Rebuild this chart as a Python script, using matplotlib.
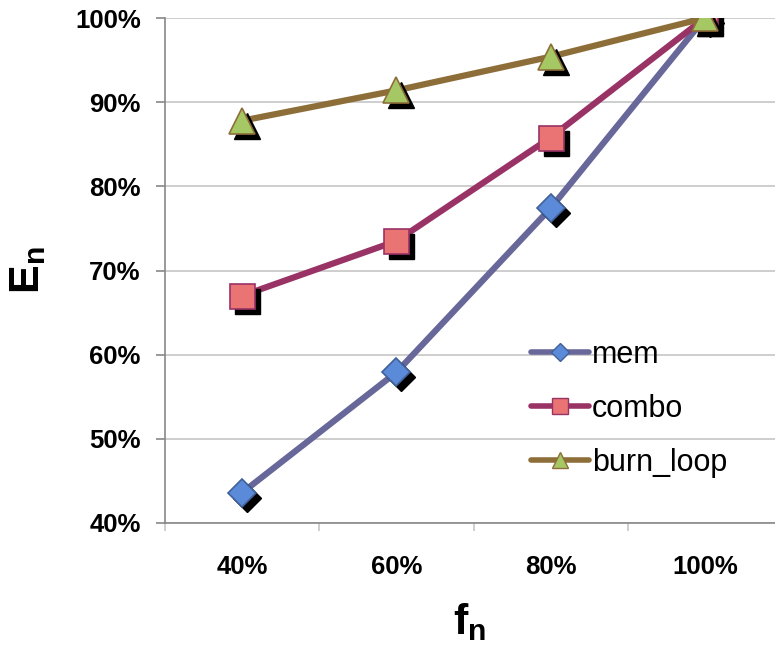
import matplotlib
matplotlib.use("Agg")
import matplotlib.pyplot as plt
import matplotlib.transforms as mtransforms
from matplotlib.lines import Line2D
from matplotlib.ticker import PercentFormatter

categories = ["40%", "60%", "80%", "100%"]
mem = [43.6, 57.9, 77.4, 100.0]
combo = [67.0, 73.5, 85.8, 100.0]
burn_loop = [87.8, 91.4, 95.4, 100.0]

plt.rcParams["font.family"] = ["Liberation Sans", "DejaVu Sans"]
plt.rcParams["mathtext.fontset"] = "custom"
plt.rcParams["mathtext.rm"] = "Liberation Sans:bold"
plt.rcParams["mathtext.it"] = "Liberation Sans:bold"

fig = plt.figure(figsize=(7.75, 6.53), dpi=100)
ax = fig.add_axes([165 / 775, 130 / 653, 617 / 775, 505 / 653])

x = list(range(len(categories)))

series = [
    ("mem", mem, "#67679a", "D", "#5b8bd8", "#40609a", 14),
    ("combo", combo, "#993366", "s", "#ea7473", "#993366", 18),
    ("burn_loop", burn_loop, "#8d6e38", "^", "#a5c865", "#8d6e38", 19),
]

shadow = mtransforms.offset_copy(ax.transData, fig=fig, x=5, y=-5, units="dots")

handles = []
for i, (name, vals, lc, mk, fc, ec, ms) in enumerate(series):
    ax.plot(x, vals, color=lc, lw=4.5, solid_capstyle="round", zorder=2 + i * 3)
    ax.plot(x, vals, ls="none", marker=mk, ms=ms, mfc="black", mec="black",
            transform=shadow, zorder=3 + i * 3)
    ax.plot(x, vals, ls="none", marker=mk, ms=ms, mfc=fc, mec=ec, mew=1.2,
            zorder=4 + i * 3)
    handles.append(Line2D([], [], color=lc, lw=4, solid_capstyle="round",
                          marker=mk, ms=ms * 0.62, mfc=fc, mec=ec, mew=1, label=name))

ax.set_xlim(-0.5, 3.5)
ax.set_ylim(40, 100)
ax.set_yticks(range(40, 101, 10))
ax.yaxis.set_major_formatter(PercentFormatter(decimals=0))
ax.set_xticks(x)
ax.set_xticklabels(categories)
ax.set_xticks([-0.5, 0.5, 1.5, 2.5, 3.5], minor=True)

ax.grid(axis="y", color="#c6c6c6", lw=1.2)
ax.set_axisbelow(True)
for s in ["top", "right"]:
    ax.spines[s].set_visible(False)
for s in ["left", "bottom"]:
    ax.spines[s].set_color("#878787")
    ax.spines[s].set_linewidth(1.2)

ax.tick_params(axis="y", length=6.5, color="#878787", width=1.2, pad=11,
               labelsize=18.5)
ax.tick_params(axis="x", which="major", length=0, pad=23, labelsize=18.5)
ax.tick_params(axis="x", which="minor", length=6, color="#c6c6c6", width=1.2)
for lab in ax.get_xticklabels() + ax.get_yticklabels():
    lab.set_fontweight("bold")

fig.text(28 / 775, 1 - 270 / 653, r"$\mathregular{E_n}$", rotation=90,
         fontsize=31, fontweight="bold", ha="center", va="center")
fig.text(470 / 775, 1 - 622 / 653, r"$\mathregular{f_n}$",
         fontsize=31, fontweight="bold", ha="center", va="center")

ax.legend(handles=handles, loc="upper left", frameon=False,
          bbox_to_anchor=(531 / 775, 1 - 340 / 653),
          bbox_transform=fig.transFigure, borderpad=0, borderaxespad=0,
          handlelength=1.9, handletextpad=0.1, labelspacing=0.78,
          prop={"size": 22})

fig.savefig("out.png", dpi=100)
